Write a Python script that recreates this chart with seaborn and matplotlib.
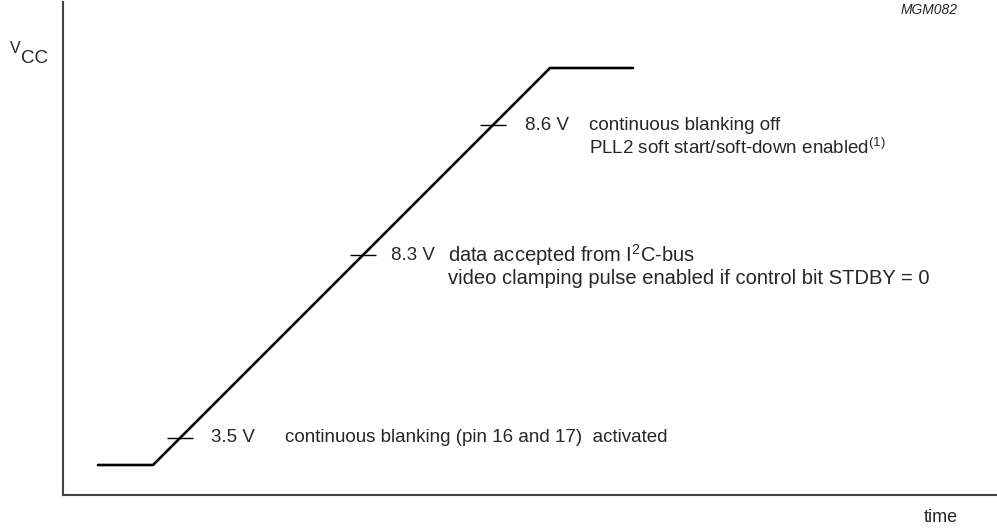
import numpy as np
import pandas as pd
import matplotlib
matplotlib.use("Agg")
import matplotlib.pyplot as plt
import seaborn as sns

# supply ramp (time, Vcc) in arbitrary drawing units
ramp_time = [35, 90, 487, 570]
ramp_vcc = [30, 30, 427, 427]

# threshold levels along the ramp
level_names = ["3.5 V", "8.3 V", "8.6 V"]
level_vcc = [57, 240, 370]
level_text = [
    ["continuous blanking (pin 16 and 17)  activated"],
    [r"data accepted from I$^{\mathregular{2}}$C-bus",
     "video clamping pulse enabled if control bit STDBY = 0"],
    ["continuous blanking off",
     r"PLL2 soft start/soft-down enabled$^{\mathregular{(1)}}$"],
]

# layout (x of value label, x of description, description font size)
label_x = [148, 328, 462]
desc_x = [222, 385, 526]
desc_fs = [13.5, 14.5, 13.5]

sns.set_style("white")
plt.rcParams["font.family"] = ["Liberation Sans", "DejaVu Sans"]
plt.rcParams["mathtext.default"] = "regular"

fig = plt.figure(figsize=(9.97, 5.28), dpi=100)
ax = fig.add_axes([63 / 997, 33 / 528, 934 / 997, 493 / 528])

df = pd.DataFrame({"time": ramp_time, "vcc": ramp_vcc})
sns.lineplot(data=df, x="time", y="vcc", ax=ax, color="black", linewidth=1.9,
             estimator=None, sort=False)

# small tick marks where the thresholds cross the ramp
tick_x = np.interp(level_vcc, ramp_vcc[1:3], ramp_time[1:3])
ax.hlines(level_vcc, tick_x - 13, tick_x + 13, color="black", linewidth=1)

for name, y, lines, lx, dx, fs in zip(level_names, level_vcc, level_text,
                                      label_x, desc_x, desc_fs):
    ax.text(lx, y, name, fontsize=13.5, va="center", ha="left")
    for i, line in enumerate(lines):
        ax.text(dx, y - 23 * i, line, fontsize=fs, va="center", ha="left")

ax.set_xlim(0, 934)
ax.set_ylim(0, 493)
ax.set_xticks([])
ax.set_yticks([])
ax.set_xlabel("")
ax.set_ylabel("")
for side in ["top", "right"]:
    ax.spines[side].set_visible(False)
for side in ["left", "bottom"]:
    ax.spines[side].set_color("#444444")
    ax.spines[side].set_linewidth(1.5)

fig.text(10 / 997, 1 - 53 / 528, "V", fontsize=11.5, ha="left", va="baseline")
fig.text(21 / 997, 1 - 63 / 528, "CC", fontsize=13.5, ha="left", va="baseline")
fig.text(958 / 997, 1 - 10 / 528, "MGM082", fontsize=10, style="italic",
         ha="right", va="center")
fig.text(941 / 997, 1 - 518 / 528, "time", fontsize=13, ha="center", va="center")

fig.savefig("out.png", dpi=100)
